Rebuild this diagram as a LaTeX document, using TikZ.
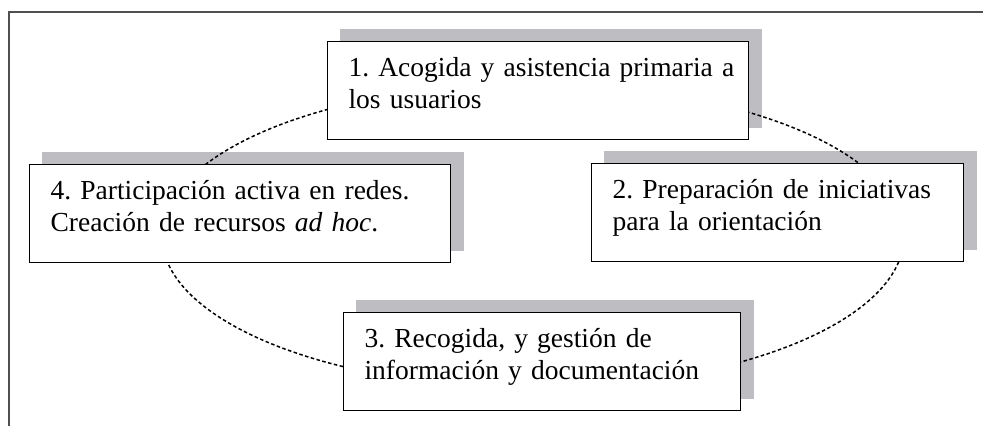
\documentclass[tikz,border=0pt]{standalone}
\usepackage{fontspec}
\setmainfont[WordSpace=0.72]{Liberation Serif}
\usepackage{tikz}
\usetikzlibrary{positioning}
\definecolor{sombragris}{RGB}{190,190,194}
\definecolor{marco}{RGB}{80,80,80}
\pgfdeclarelayer{sombras}
\pgfdeclarelayer{fondo}
\pgfsetlayers{sombras,fondo,main}
\frenchspacing

\begin{document}
\begin{tikzpicture}[x=1pt, y=-1pt,
        caja/.style={rectangle, draw, line width=1.2pt, fill=white, anchor=north west, align=left,
            inner xsep=21pt, inner ysep=10pt, text height=25pt, text depth=53pt,
            font=\fontsize{27.5}{32}\selectfont},
        sombra/.style={fill=sombragris},
        punteado/.style={line width=1.5pt, dash pattern=on 3.5pt off 2.5pt}]
        \useasboundingbox (0,0) rectangle (983,426);
        % marco
        \draw[marco, line width=1.1pt] (9,426) -- (9,12) -- (983,12);
        % cajas
        \node[caja, text width=379pt] (aco) at (327,41) {\mbox{1. Acogida y asistencia primaria a}\\los usuarios};
        \node[caja, text width=330pt] (pre) at (591,163) {\mbox{2. Preparación de iniciativas}\\para la orientación};
        \node[caja, text width=355pt] (rec) at (343,312) {\mbox{3. Recogida, y gestión de}\\\mbox{información y documentación}};
        \node[caja, text width=379pt] (par) at (29,164) {\mbox{4. Participación activa en redes.}\\Creación de recursos \textit{ad hoc}.};
        % ciclo
        \coordinate (centro) at (533,236);
        \begin{pgfonlayer}{fondo}
            \draw[punteado] (centro) ellipse [x radius=371pt, y radius=152pt];
        \end{pgfonlayer}
        % sombras
        \begin{pgfonlayer}{sombras}
            \foreach \c in {aco, pre, rec, par}
                \fill[sombra] ([shift={(13,-12)}]\c.south west) rectangle ([shift={(13,-12)}]\c.north east);
        \end{pgfonlayer}
    \end{tikzpicture}
\end{document}
